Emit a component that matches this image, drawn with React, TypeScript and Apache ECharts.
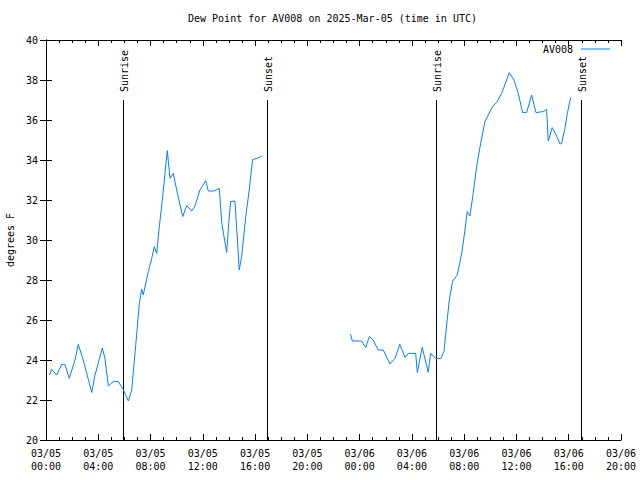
import React, { useEffect, useRef } from "react";
import * as echarts from "echarts";

// hours since 2025-03-05 00:00 UTC
const hoursA = [0.25, 0.44, 0.82, 1.2, 1.45, 1.78, 2.22, 2.47, 2.85, 3.5, 3.75, 4.31, 4.51, 4.77, 5.15, 5.53, 5.91, 6.3, 6.56, 6.89, 7.14, 7.32, 7.44, 7.83, 8.09, 8.29, 8.47, 8.67, 8.93, 9.28, 9.49, 9.74, 10.0, 10.46, 10.77, 11.15, 11.4, 11.78, 12.22, 12.42, 12.85, 13.26, 13.44, 13.62, 13.83, 14.0, 14.13, 14.46, 14.67, 14.79, 14.97, 15.3, 15.55, 15.81, 16.17, 16.5];
const dewA = [23.25, 23.53, 23.25, 23.78, 23.78, 23.08, 24.0, 24.78, 24.0, 22.38, 23.25, 24.6, 24.08, 22.7, 22.92, 22.92, 22.53, 21.95, 22.5, 24.92, 26.83, 27.53, 27.25, 28.42, 29.08, 29.67, 29.33, 30.67, 32.17, 34.47, 33.08, 33.33, 32.5, 31.17, 31.72, 31.45, 31.7, 32.5, 32.97, 32.45, 32.45, 32.58, 30.92, 30.17, 29.38, 31.0, 31.92, 31.95, 29.75, 28.5, 29.17, 31.25, 32.5, 34.03, 34.08, 34.2];
const hoursB = [23.31, 23.44, 24.15, 24.46, 24.74, 25.04, 25.42, 25.81, 26.32, 26.7, 27.08, 27.47, 27.72, 28.29, 28.41, 28.79, 29.25, 29.43, 29.84, 30.22, 30.45, 30.66, 30.86, 31.12, 31.47, 31.81, 32.06, 32.23, 32.44, 32.69, 32.95, 33.26, 33.59, 33.97, 34.22, 34.48, 34.87, 35.45, 35.81, 36.14, 36.47, 36.78, 37.16, 37.49, 38.05, 38.31, 38.43, 38.74, 39.07, 39.33, 39.46, 39.71, 39.89, 40.15];
const dewB = [25.3, 24.95, 24.95, 24.62, 25.17, 25.0, 24.5, 24.5, 23.8, 24.08, 24.78, 24.12, 24.33, 24.33, 23.38, 24.63, 23.38, 24.33, 24.08, 24.08, 24.42, 25.75, 27.0, 27.95, 28.25, 29.33, 30.5, 31.42, 31.2, 32.33, 33.67, 34.83, 35.92, 36.42, 36.72, 36.87, 37.33, 38.37, 38.0, 37.33, 36.37, 36.37, 37.25, 36.37, 36.42, 36.53, 34.95, 35.62, 35.2, 34.8, 34.83, 35.58, 36.33, 37.13];
const gapHour = 20;

const sunHours = [5.89, 16.91, 29.84, 40.93];
const sunLabels = ["Sunrise", "Sunset", "Sunrise", "Sunset"];
const sunTop = 37;

const xTickLabels = [
  "03/05\n00:00", "03/05\n04:00", "03/05\n08:00", "03/05\n12:00", "03/05\n16:00", "03/05\n20:00",
  "03/06\n00:00", "03/06\n04:00", "03/06\n08:00", "03/06\n12:00", "03/06\n16:00", "03/06\n20:00",
];

const titleText = "Dew Point for AV008 on 2025-Mar-05 (time in UTC)";
const seriesName = "AV008";
const yName = "degrees F";

const FONT = "DejaVu Sans Mono";

export default function App() {
  const ref = useRef<HTMLDivElement>(null);
  useEffect(() => {
    if (!ref.current) return;
    const chart = echarts.init(ref.current, undefined, { renderer: "svg" });
    const data: any[] = [];
    hoursA.forEach((h, i) => data.push([h, dewA[i]]));
    data.push([gapHour, null]);
    hoursB.forEach((h, i) => data.push([h, dewB[i]]));

    const axisLine = { show: true, lineStyle: { color: "#000", width: 1 } };
    const xCommon = {
      type: "value" as const,
      min: 0,
      max: 44,
      interval: 4,
      axisLine,
      axisTick: { show: true, inside: true, length: 6, lineStyle: { color: "#000" } },
      minorTick: { show: true, splitNumber: 4, length: 3, lineStyle: { color: "#000" } },
      splitLine: { show: false },
    };
    const yCommon = {
      type: "value" as const,
      min: 20,
      max: 40,
      interval: 2,
      axisLine,
      axisTick: { show: true, inside: true, length: 6, lineStyle: { color: "#000" } },
      splitLine: { show: false },
    };

    chart.setOption({
      animation: false,
      backgroundColor: "#fff",
      title: {
        text: titleText,
        left: 188,
        top: 13,
        padding: 0,
        textStyle: { fontFamily: FONT, fontSize: 10, fontWeight: "normal", color: "#000" },
      },
      legend: {
        data: [seriesName],
        right: 30,
        top: 44,
        padding: 0,
        align: "right",
        icon: "rect",
        itemWidth: 29,
        itemHeight: 1,
        textStyle: { fontFamily: FONT, fontSize: 10, color: "#000", padding: [0, 3, 0, 0] },
      },
      grid: { left: 46, right: 19, top: 40, bottom: 40, outerBoundsMode: "none", containLabel: false },
      xAxis: [
        {
          ...xCommon,
          position: "bottom",
          axisLabel: {
            fontFamily: FONT,
            fontSize: 10,
            color: "#000",
            lineHeight: 13,
            margin: 7,
            formatter: (v: number) => xTickLabels[Math.round(v / 4)] ?? "",
          },
        },
        { ...xCommon, position: "top", axisLabel: { show: false } },
      ],
      yAxis: [
        {
          ...yCommon,
          position: "left",
          name: yName,
          nameLocation: "middle",
          nameGap: 31,
          nameRotate: 90,
          nameTextStyle: { fontFamily: FONT, fontSize: 10, color: "#000" },
          axisLabel: { fontFamily: FONT, fontSize: 10, color: "#000", margin: 8 },
        },
        { ...yCommon, position: "right", axisLabel: { show: false } },
      ],
      series: [
        {
          name: seriesName,
          type: "line",
          data,
          symbol: "none",
          connectNulls: false,
          lineStyle: { color: "#0080ff", width: 1 },
          itemStyle: { color: "#0080ff" },
          z: 3,
        },
        {
          name: "sun",
          type: "custom",
          data: sunHours.map((h) => [h, sunTop]),
          clip: false,
          z: 2,
          renderItem: (params: any, api: any) => {
            const x = api.value(0);
            const top = api.coord([x, sunTop]);
            const bottom = api.coord([x, 20]);
            const px = Math.round(top[0]) + 0.5;
            return {
              type: "group",
              children: [
                {
                  type: "line",
                  shape: { x1: px, y1: top[1], x2: px, y2: bottom[1] },
                  style: { stroke: "#000", lineWidth: 1 },
                },
                {
                  type: "text",
                  x: px + 1,
                  y: top[1] - 8,
                  rotation: Math.PI / 2,
                  style: {
                    text: sunLabels[params.dataIndex],
                    fill: "#000",
                    font: `10px "${FONT}"`,
                    align: "left",
                    verticalAlign: "middle",
                  },
                },
              ],
            };
          },
        },
      ],
    });
    return () => chart.dispose();
  }, []);
  return (
    <div
      ref={ref}
      style={{ position: "fixed", left: 0, top: 0, width: 640, height: 480, background: "#fff" }}
    />
  );
}
